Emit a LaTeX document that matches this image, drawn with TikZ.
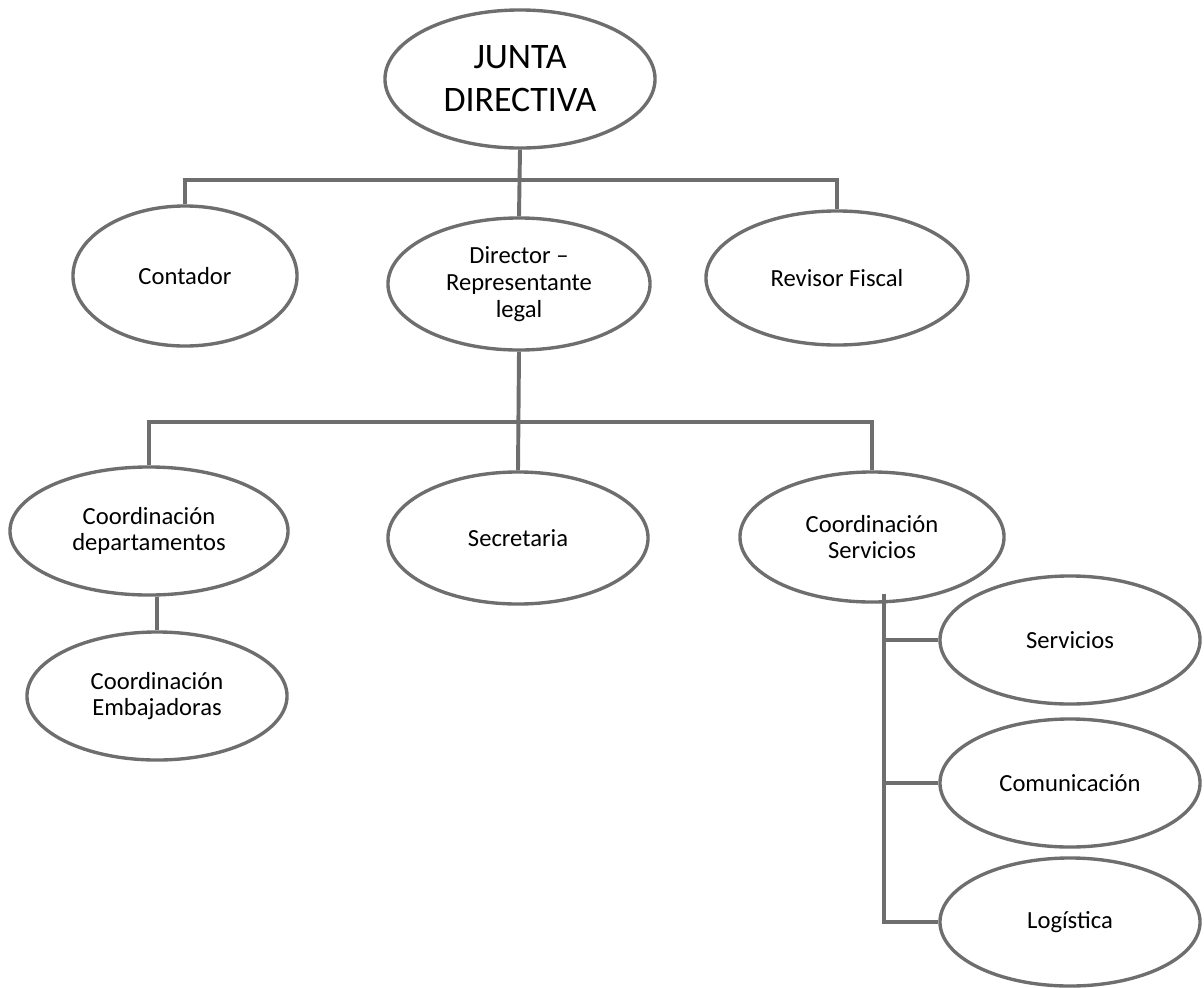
\documentclass[tikz,border=0pt]{standalone}
\usepackage{fontspec}
\setmainfont{Carlito}
\usetikzlibrary{shapes.geometric}
\definecolor{Line}{HTML}{6E6E6E}

\begin{document}
\begin{tikzpicture}[x=0.025cm,y=-0.025cm,
    unit/.style={ellipse,draw=Line,line width=2.4pt,fill=white,inner sep=0pt,minimum width=6.5cm,minimum height=3.25cm,align=center,font=\fontsize{17.5}{19}\selectfont},
    link/.style={draw=Line,line width=2.8pt}
  ]
    \useasboundingbox (0,0) rectangle (1204,987);
    \draw[link] (520,180) coordinate (bus1) (520,422) coordinate (bus2) (884,594) coordinate (sbus);
    % top level
    \node[unit,minimum width=6.75cm,minimum height=3.45cm,font=\fontsize{25.5}{30.6}\selectfont] (junta) at (520,79) {JUNTA\\DIRECTIVA};
    \node[unit,minimum width=5.6cm,minimum height=3.5cm] (contador) at (185,276) {Contador};
    \node[unit,minimum width=6.55cm,minimum height=3.3cm] (director) at (519,284) {Director --\\Representante\\legal};
    \node[unit,minimum width=6.55cm,minimum height=3.35cm] (revisor) at (837,278) {Revisor Fiscal};
    % second level
    \node[unit,minimum width=6.95cm,minimum height=3.2cm] (coorddep) at (149,531) {Coordinación\\departamentos};
    \node[unit,minimum height=3.3cm] (secretaria) at (518,538) {Secretaria};
    \node[unit,minimum width=6.6cm] (coordserv) at (872,537) {Coordinación\\Servicios};
    \node[unit,minimum height=3.2cm] (embajadoras) at (157,696) {Coordinación\\Embajadoras};
    \node[unit,minimum height=3.2cm] (servicios) at (1070,640) {Servicios};
    \node[unit,minimum height=3.2cm] (comunicacion) at (1070,783) {Comunicación};
    \node[unit,minimum height=3.2cm] (logistica) at (1070,922) {Logística};
    % connectors
    \draw[link] (junta.south) -- (director.north);
    \draw[link] (bus1) -| (contador.north);
    \draw[link] (bus1) -| (revisor.north);
    \draw[link] (director.south) -- (secretaria.north);
    \draw[link] (bus2) -| (coorddep.north);
    \draw[link] (bus2) -| (coordserv.north);
    \draw[link] (embajadoras.north |- coorddep.south) -- (embajadoras.north);
    \foreach \n in {servicios,comunicacion,logistica}
      \draw[link] (sbus) |- (\n.west);
  \end{tikzpicture}
\end{document}
